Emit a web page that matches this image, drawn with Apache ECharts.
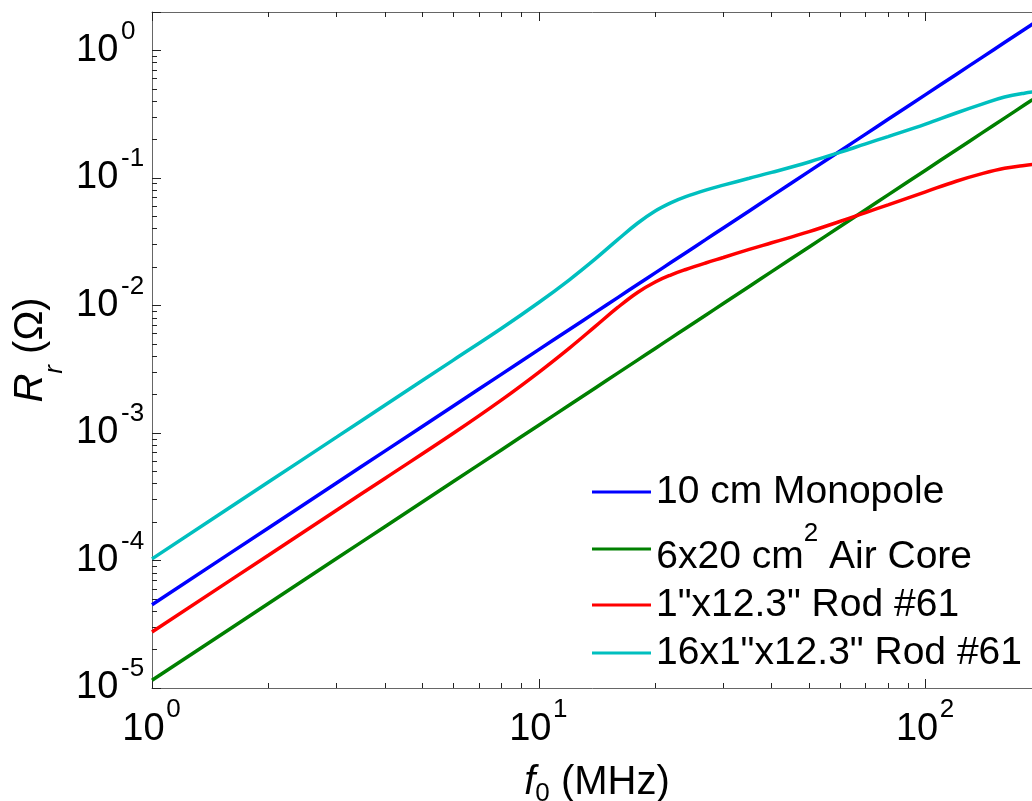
<!DOCTYPE html>
<html>
<head>
<meta charset="utf-8">
<script src="https://cdn.jsdelivr.net/npm/echarts@6/dist/echarts.min.js"></script>
<style>
  html, body { margin: 0; padding: 0; background: #ffffff; }
  #chart { width: 1032px; height: 801px; }
</style>
</head>
<body>
<div id="chart"></div>
<script>
// Frequency samples (MHz) shared by every curve
const freqMHz = [1, 2, 3, 4, 6, 8, 10, 12, 14, 16, 18, 20, 22, 24, 27, 30, 35, 40, 50, 60, 70, 80, 100, 120, 140, 160, 180, 200];

// Radiation resistance R_r (ohm) for each antenna
const monopole10cm = [4.5e-5, 1.8e-4, 4.05e-4, 7.2e-4, 1.62e-3, 2.88e-3, 4.5e-3, 6.48e-3, 8.82e-3, 0.01152, 0.01458, 0.018, 0.02178, 0.02592, 0.0328, 0.0405, 0.0551, 0.072, 0.1125, 0.162, 0.2205, 0.288, 0.45, 0.648, 0.882, 1.152, 1.458, 1.8];
const airCoreLoop = [1.15e-5, 4.6e-5, 1.035e-4, 1.84e-4, 4.14e-4, 7.36e-4, 1.15e-3, 1.656e-3, 2.254e-3, 2.944e-3, 3.726e-3, 4.6e-3, 5.566e-3, 6.624e-3, 8.384e-3, 0.01035, 0.01409, 0.0184, 0.02875, 0.0414, 0.05635, 0.0736, 0.115, 0.1656, 0.2254, 0.2944, 0.3726, 0.46];
const rod61 = [2.75e-5, 1.1e-4, 2.48e-4, 4.4e-4, 9.9e-4, 1.81e-3, 2.99e-3, 4.63e-3, 6.85e-3, 9.64e-3, 0.01264, 0.01528, 0.01738, 0.01914, 0.02153, 0.02377, 0.0275, 0.031, 0.0379, 0.0455, 0.0535, 0.0615, 0.0778, 0.0942, 0.108, 0.119, 0.1253, 0.1295];
const rod61x16 = [1.03e-4, 4.12e-4, 9.27e-4, 1.65e-3, 3.71e-3, 6.59e-3, 0.01054, 0.01589, 0.02317, 0.0328, 0.0441, 0.055, 0.064, 0.0713, 0.0802, 0.0877, 0.0993, 0.1104, 0.1334, 0.1585, 0.185, 0.211, 0.264, 0.323, 0.379, 0.431, 0.462, 0.48];

const seriesNames = ['10 cm Monopole', '6x20 cm^2 Air Core', '1"x12.3" Rod #61', '16x1"x12.3" Rod #61'];
const seriesColors = ['#0000ff', '#008000', '#ff0000', '#00bfbf'];
const seriesValues = [monopole10cm, airCoreLoop, rod61, rod61x16];

// Axis ranges and tick positions
const xRange = [1, 200];
const yRange = [1e-5, 2];
const xDecades = [1, 10, 100];
const yDecades = [1e-5, 1e-4, 1e-3, 1e-2, 1e-1, 1];
const minorSteps = [2, 3, 4, 5, 6, 7, 8, 9];

function minorTicks(decades, range) {
  const out = [];
  decades.forEach(d => minorSteps.forEach(m => {
    const v = +(d * m).toPrecision(6);
    if (v > range[0] && v < range[1]) out.push(v);
  }));
  return out;
}
const xMinor = minorTicks(xDecades, xRange);
const yMinor = minorTicks(yDecades, yRange);

const FONT = '"Liberation Sans", Arial, sans-serif';
const AXIS_LINE = '#666666';
const TICK = '#222222';

// Plot box (px)
const GRID = { left: 152, top: 12, right: -10, bottom: 113 };
const plotHeight = 801 - GRID.top - GRID.bottom;
const pxPerDecadeY = plotHeight / Math.log10(yRange[1] / yRange[0]);

// Decade labels are drawn in two parts: the base "10" on the main axis and
// the exponent on a label-only companion axis. On the y side that axis is
// slid up by 19 px so each exponent sits above and right of its "10".
const expLiftY = Math.pow(10, 19 / pxPerDecadeY);
const yExpRange = [yRange[0] / expLiftY, yRange[1] / expLiftY];

function exponentOf(v) {
  const lg = Math.log10(v);
  const e = Math.round(lg);
  return Math.abs(lg - e) > 1e-6 ? null : e;
}
const baseLabel = v => (exponentOf(v) === null ? '' : '10');
const expLabel = v => { const e = exponentOf(v); return e === null ? '' : String(e); };

function logAxis(range, position, opts) {
  return Object.assign({
    type: 'log',
    logBase: 10,
    min: range[0],
    max: range[1],
    position: position,
    splitLine: { show: false },
    axisLine: { show: true, lineStyle: { color: AXIS_LINE, width: 1 } },
    axisTick: { show: true, inside: true, length: 9, lineStyle: { color: TICK, width: 1 } },
    axisLabel: { show: false },
    nameMoveOverlap: false
  }, opts);
}
function minorAxis(range, position, values, label) {
  return logAxis(range, position, {
    axisLine: { show: false },
    axisTick: { show: true, inside: true, length: 5, customValues: values, lineStyle: { color: TICK, width: 1 } },
    axisLabel: label || { show: false }
  });
}

const chart = echarts.init(document.getElementById('chart'), null, { renderer: 'canvas' });

const option = {
  animation: false,
  backgroundColor: '#ffffff',
  grid: Object.assign({ containLabel: false, outerBoundsMode: 'none' }, GRID),
  xAxis: [
    logAxis(xRange, 'bottom', {
      axisLabel: {
        show: true, margin: 22, padding: [0, 17, 0, 0], formatter: baseLabel,
        fontFamily: FONT, fontSize: 38, lineHeight: 40, color: '#000'
      },
      name: '{i|f}{s|0}{n| (MHz)}',
      nameLocation: 'middle',
      nameGap: 75,
      nameTextStyle: {
        rich: {
          i: { fontFamily: FONT, fontSize: 40, fontStyle: 'italic', height: 40, lineHeight: 62, color: '#000', verticalAlign: 'top' },
          s: { fontFamily: FONT, fontSize: 26, height: 26, lineHeight: 62, padding: [18, 0, 18, 0], color: '#000', verticalAlign: 'top' },
          n: { fontFamily: FONT, fontSize: 40, height: 40, lineHeight: 62, color: '#000', verticalAlign: 'top' }
        }
      }
    }),
    minorAxis(xRange, 'bottom', xMinor, {
      show: true, margin: 9, padding: [0, 0, 0, 43], formatter: expLabel,
      fontFamily: FONT, fontSize: 26, lineHeight: 26, color: '#000'
    }),
    logAxis(xRange, 'top', {}),
    minorAxis(xRange, 'top', xMinor)
  ],
  yAxis: [
    logAxis(yRange, 'left', {
      axisLabel: {
        show: true, align: 'left', margin: 76, formatter: baseLabel,
        fontFamily: FONT, fontSize: 38, lineHeight: 40, color: '#000'
      },
      name: '{i|R}{s|r}{n| (Ω)}',
      nameLocation: 'middle',
      nameRotate: 90,
      nameGap: 53,
      nameTextStyle: {
        rich: {
          i: { fontFamily: FONT, fontSize: 40, fontStyle: 'italic', height: 40, lineHeight: 88, color: '#000', verticalAlign: 'top' },
          s: { fontFamily: FONT, fontSize: 26, fontStyle: 'italic', height: 26, lineHeight: 88, padding: [31, 0, 31, 0], color: '#000', verticalAlign: 'top' },
          n: { fontFamily: FONT, fontSize: 40, height: 40, lineHeight: 88, color: '#000', verticalAlign: 'top' }
        }
      }
    }),
    minorAxis(yRange, 'left', yMinor),
    logAxis(yExpRange, 'left', {
      axisLine: { show: false },
      axisTick: { show: false },
      axisLabel: {
        show: true, align: 'left', margin: 31, formatter: expLabel,
        fontFamily: FONT, fontSize: 26, lineHeight: 26, color: '#000'
      }
    })
  ],
  legend: {
    orient: 'vertical',
    left: 592,
    top: 473,
    padding: 0,
    icon: 'rect',
    itemWidth: 59,
    itemHeight: 3,
    itemGap: 9,
    selectedMode: false,
    data: seriesNames,
    formatter: function (name) {
      const parts = name.split('^2');
      if (parts.length === 2) return '{gap| }{b|' + parts[0] + '}{sup|2}{b|' + parts[1] + '}';
      return '{b|' + name + '}';
    },
    textStyle: {
      rich: {
        b: { fontFamily: FONT, fontSize: 39, lineHeight: 40, color: '#000', verticalAlign: 'bottom' },
        sup: { fontFamily: FONT, fontSize: 26, lineHeight: 35, color: '#000', verticalAlign: 'top' },
        gap: { fontSize: 1, lineHeight: 56 }
      }
    }
  },
  series: seriesNames.map((name, i) => ({
    name: name,
    type: 'line',
    xAxisIndex: 0,
    yAxisIndex: 0,
    data: freqMHz.map((f, k) => [f, seriesValues[i][k]]),
    showSymbol: false,
    symbol: 'none',
    smooth: 0.4,
    color: seriesColors[i],
    lineStyle: { color: seriesColors[i], width: 3.5 },
    emphasis: { disabled: true }
  }))
};

chart.setOption(option);
</script>
</body>
</html>
